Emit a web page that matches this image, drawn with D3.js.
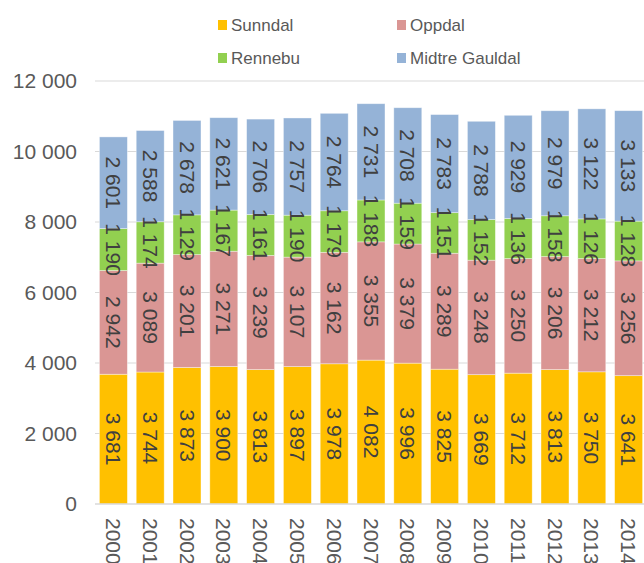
<!DOCTYPE html>
<html>
<head>
<meta charset="utf-8">
<script src="https://cdn.jsdelivr.net/npm/d3@7"></script>
<style>
  body { margin: 0; background: #fff; }
  svg { font-family: "Liberation Sans", Arial, sans-serif; }
</style>
</head>
<body>
<svg id="chart"></svg>
<script>
// data
var years = ["2000","2001","2002","2003","2004","2005","2006","2007","2008","2009","2010","2011","2012","2013","2014"];
var seriesNames = ["Sunndal", "Oppdal", "Rennebu", "Midtre Gauldal"];
var seriesColors = ["#FFC000", "#DA9694", "#92D050", "#95B3D7"];
var sunndal = [3681, 3744, 3873, 3900, 3813, 3897, 3978, 4082, 3996, 3825, 3669, 3712, 3813, 3750, 3641];
var oppdal = [2942, 3089, 3201, 3271, 3239, 3107, 3162, 3355, 3379, 3289, 3248, 3250, 3206, 3212, 3256];
var rennebu = [1190, 1174, 1129, 1167, 1161, 1190, 1179, 1188, 1159, 1151, 1152, 1136, 1158, 1126, 1128];
var midtreGauldal = [2601, 2588, 2678, 2621, 2706, 2757, 2764, 2731, 2708, 2783, 2788, 2929, 2979, 3122, 3133];
var yTicks = [0, 2000, 4000, 6000, 8000, 10000, 12000];

var width = 644, height = 563;
var svg = d3.select("#chart").attr("width", width).attr("height", height);

var table = years.map(function (y, i) {
        return { year: y, "Sunndal": sunndal[i], "Oppdal": oppdal[i], "Rennebu": rennebu[i], "Midtre Gauldal": midtreGauldal[i] };
});
var stacked = d3.stack().keys(seriesNames)(table);

var fmt = function (v) { return d3.format(",")(v).replace(/,/g, " "); };

// plot runs a little past the right edge, like the reference
var x = d3.scaleBand().domain(years).range([95, 647]).paddingInner(0.24).paddingOuter(0.12);
var y = d3.scaleLinear().domain([0, 12000]).range([504, 81]);

// gridlines
svg.append("g")
        .selectAll("line")
        .data(yTicks.slice(1))
        .enter().append("line")
        .attr("x1", 95).attr("x2", 647)
        .attr("y1", d => y(d)).attr("y2", d => y(d))
        .attr("stroke", "#d9d9d9").attr("stroke-width", 1);

// y axis labels
var yAxis = svg.append("g")
        .attr("transform", "translate(95,0)")
        .call(d3.axisLeft(y).tickValues(yTicks).tickSize(0).tickPadding(18).tickFormat(fmt));
yAxis.select(".domain").remove();
yAxis.selectAll("text").attr("font-size", 21).attr("fill", "#595959").attr("font-family", "Liberation Sans, Arial, sans-serif");

// bars
var layers = svg.append("g").selectAll("g")
        .data(stacked)
        .enter().append("g")
        .attr("fill", (d, i) => seriesColors[i]);

layers.selectAll("rect")
        .data(d => d)
        .enter().append("rect")
        .attr("x", d => x(d.data.year))
        .attr("width", x.bandwidth())
        .attr("y", d => y(d[1]))
        .attr("height", d => y(d[0]) - y(d[1]))
        .attr("stroke", "#ffffff")
        .attr("stroke-opacity", 0.5)
        .attr("stroke-width", 0.75);

// value labels, rotated - drawn above all bars so they can overflow
var labelLayers = svg.append("g").selectAll("g")
        .data(stacked)
        .enter().append("g");

labelLayers.selectAll("text")
        .data(d => d)
        .enter().append("text")
        .attr("transform", d => "translate(" + (x(d.data.year) + x.bandwidth() / 2) + "," + y((d[0] + d[1]) / 2) + ") rotate(90)")
        .attr("text-anchor", "middle")
        .attr("dy", "0.35em")
        .attr("font-size", 21)
        .attr("fill", "#404040")
        .text(d => fmt(d[1] - d[0]));

// x axis line
svg.append("line")
        .attr("x1", 95).attr("x2", 647)
        .attr("y1", y(0)).attr("y2", y(0))
        .attr("stroke", "#d9d9d9").attr("stroke-width", 1.5);

// x labels
svg.append("g").selectAll("text")
        .data(years)
        .enter().append("text")
        .attr("transform", d => "translate(" + (x(d) + x.bandwidth() / 2) + ",518) rotate(90)")
        .attr("dy", "0.35em")
        .attr("font-size", 21)
        .attr("fill", "#595959")
        .text(d => d);

// legend
var legendPos = [[218, 25], [397, 25], [218, 58], [397, 58]];
var legend = svg.append("g").selectAll("g")
        .data(seriesNames)
        .enter().append("g")
        .attr("transform", (d, i) => "translate(" + legendPos[i][0] + "," + legendPos[i][1] + ")");
legend.append("rect")
        .attr("x", 0).attr("y", -5).attr("width", 9).attr("height", 10)
        .attr("fill", (d, i) => seriesColors[i]);
legend.append("text")
        .attr("x", 13).attr("dy", "0.35em")
        .attr("font-size", 17)
        .attr("fill", "#595959")
        .text(d => d);
</script>
</body>
</html>
